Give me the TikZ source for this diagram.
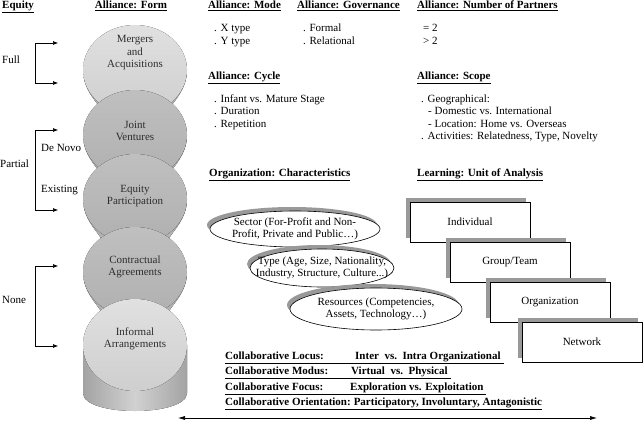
\documentclass[tikz,border=0pt]{standalone}
\usepackage{fontspec}
\setmainfont{Liberation Serif}
\usetikzlibrary{arrows.meta,positioning,shapes.geometric,shadows}
\definecolor{lightface}{gray}{0.88}
\definecolor{lightfacelo}{gray}{0.81}
\definecolor{darkface}{gray}{0.75}
\definecolor{darkfacelo}{gray}{0.69}
\definecolor{bodyedge}{gray}{0.64}
\definecolor{bodymid}{gray}{0.82}
\definecolor{shadowgray}{gray}{0.60}
\definecolor{formtextcol}{gray}{0.18}
\newcommand{\plainfont}{\fontsize{11}{12.5}\selectfont}
\newcommand{\collabline}[3]{\underline{\makebox[#1][l]{#2}#3\hspace{3pt}}}
\tikzset{
  txt/.style={font=\plainfont, inner sep=0pt},
  head/.style={font=\plainfont\bfseries, inner sep=0pt, anchor=base west},
  list/.style={txt, anchor=base west, align=left},
  formtext/.style={txt, align=center, text=formtextcol},
  lightdisc/.style={top color=lightface, bottom color=lightfacelo},
  darkdisc/.style={top color=darkface, bottom color=darkfacelo},
  neck/.style={left color=bodyedge, right color=bodyedge, middle color=bodymid},
  orgell/.style={ellipse, draw=black, line width=0.6pt, fill=white, inner xsep=-20pt, inner ysep=-6pt,
    align=center, font=\fontsize{11}{11.5}\selectfont,
    drop shadow={shadow xshift=-3pt, shadow yshift=4pt, fill=shadowgray, opacity=1}},
  unitbox/.style={draw=black, line width=0.6pt, fill=white, minimum width=120pt, minimum height=40pt,
    font=\plainfont, drop shadow={shadow xshift=-4pt, shadow yshift=4pt, fill=shadowgray, opacity=1}},
  bracket/.style={{Latex[length=5pt,width=4pt]}-{Latex[length=5pt,width=4pt]}, line width=0.6pt},
  axis/.style={{Latex[length=7pt,width=4pt]}-{Latex[length=7pt,width=4pt]}, line width=0.6pt}
}

\begin{document}
\begin{tikzpicture}[x=1pt,y=-1pt]
\useasboundingbox (0,0) rectangle (643,423);

% equity column
\node[head] (equity) at (2,8.5) {\underline{Equity}};
\node[head, anchor=base] (form) at (131,8.5) {\underline{Alliance: Form}};
\node[list] (full) at (2,63) {Full};
\node[list] (partial) at (0,167) {Partial};
\node[list] (none) at (2,303) {None};
\node[list] (denovo) at (41,151) {De Novo};
\node[list] (existing) at (41,192) {Existing};
\coordinate (full1) at (58,43);
\coordinate (full2) at (58,83);
\coordinate (part1) at (58,130);
\coordinate (part2) at (58,210);
\coordinate (none1) at (58,266);
\coordinate (none2) at (58,346);
\draw[bracket] (full1) -- ++(-23,0) |- (full2);
\draw[bracket] (part1) -- ++(-23,0) |- (part2);
\draw[bracket] (none1) -- ++(-23,0) |- (none2);

% alliance forms
\fill[neck] (83,70) .. controls (84,95) and (100,102) .. (108,122) -- (162,122) .. controls (170,102) and (186,95) .. (187,70) -- cycle;
\fill[lightdisc] (135,70) ellipse [x radius=52pt, y radius=45pt];
\fill[neck] (83,135) .. controls (84,160) and (100,167) .. (108,187) -- (162,187) .. controls (170,167) and (186,160) .. (187,135) -- cycle;
\fill[darkdisc] (135,135) ellipse [x radius=52pt, y radius=45pt];
\fill[neck] (83,199) .. controls (84,224) and (100,231) .. (108,251) -- (162,251) .. controls (170,231) and (186,224) .. (187,199) -- cycle;
\fill[darkdisc] (135,199) ellipse [x radius=52pt, y radius=45pt];
\fill[neck] (83,272) .. controls (84,297) and (100,304) .. (108,324) -- (162,324) .. controls (170,304) and (186,297) .. (187,272) -- cycle;
\fill[darkdisc] (135,272) ellipse [x radius=52pt, y radius=45pt];
\fill[neck] (83,345) -- (83,393) .. controls (83,417) and (187,417) .. (187,393) -- (187,345) -- cycle;
\fill[lightdisc] (135,345) ellipse [x radius=52pt, y radius=46pt];
\node[formtext] (merger) at (135,53) {Mergers\\and\\Acquisitions};
\node[formtext] (joint) at (135,131) {Joint\\Ventures};
\node[formtext] (eqpart) at (135,196) {Equity\\Participation};
\node[formtext] (contract) at (135,267) {Contractual\\Agreements};
\node[formtext] (informal) at (135,339) {Informal\\Arrangements};

% alliance attributes
\node[head] (mode) at (208,8.5) {\underline{Alliance: Mode}};
\node[list] (modelist) at (214,44) {. X type\\. Y type};
\node[head] (gov) at (297,8.5) {\underline{Alliance: Governance}};
\node[list] (govlist) at (303,44) {. Formal\\. Relational};
\node[head] (partners) at (417,8.5) {\underline{Alliance: Number of Partners}};
\node[list] (partlist) at (423,44) {= 2\\> 2};
\node[head] (cycle) at (208,79) {\underline{Alliance: Cycle}};
\node[list] (cyclelist) at (214,127) {. Infant vs. Mature Stage\\. Duration\\. Repetition};
\node[head] (scope) at (417,79) {\underline{Alliance: Scope}};
\node[list] (scopelist) at (421,139.5) {. Geographical:\\\hspace*{7pt}- Domestic vs. International\\\hspace*{7pt}- Location: Home vs. Overseas\\. Activities: Relatedness, Type, Novelty};

% organization
\node[head] (orghead) at (209,176) {\underline{Organization: Characteristics}};
\node[orgell, minimum width=170pt, minimum height=36pt] (sector) at (295,229) {Sector (For-Profit and Non-\\Profit, Private and Public\ldots)};
\node[orgell, minimum width=144pt, minimum height=38pt] (type) at (322,268) {Type (Age, Size, Nationality,\\Industry, Structure, Culture...)};
\node[orgell, minimum width=172pt, minimum height=42pt] (resource) at (376,309) {Resources (Competencies,\\Assets, Technology\ldots)};

% learning
\node[head] (learnhead) at (417,176) {\underline{Learning: Unit of Analysis}};
\node[unitbox] (indiv) at (470,222) {Individual};
\node[unitbox] (group) at (510,262) {Group/Team};
\node[unitbox] (organ) at (550,302) {Organization};
\node[unitbox] (network) at (582,342) {Network};

% collaboration
\node[head] (locus) at (225,359) {\collabline{130pt}{Collaborative Locus:}{Inter\ \ vs.\ \ Intra Organizational}};
\node[head] (modus) at (225,374) {\collabline{126pt}{Collaborative Modus:}{Virtual\ \ vs.\ \ Physical}};
\node[head] (focus) at (225,390) {\collabline{125pt}{Collaborative Focus:}{Exploration vs. Exploitation}};
\node[head] (orient) at (225,405) {\underline{Collaborative Orientation:\hspace{3pt}Participatory, Involuntary, Antagonistic}};
\coordinate (axl) at (178,418);
\coordinate (axr) at (597,418);
\draw[axis] (axl) -- (axr);
\end{tikzpicture}
\end{document}
